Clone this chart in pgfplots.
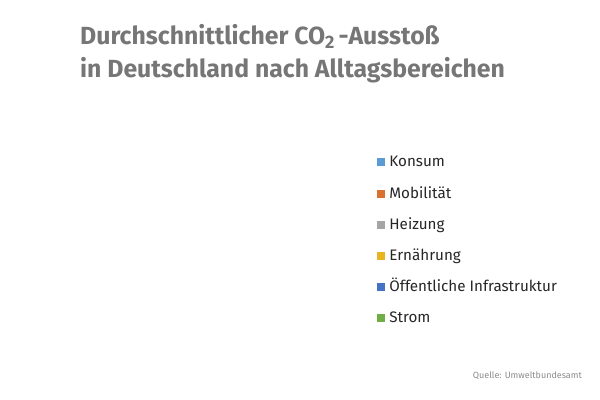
\documentclass[border=0pt]{standalone}
\usepackage{pgfplots}
\pgfplotsset{compat=1.18}
\usepackage{fontspec}
\setmainfont{Fira Sans}

\definecolor{titlegray}{HTML}{767676}
\definecolor{srcgray}{HTML}{8C8C8C}
\definecolor{textdark}{HTML}{262626}
\definecolor{cKonsum}{HTML}{5B9BD5}
\definecolor{cMobil}{HTML}{D9722E}
\definecolor{cHeiz}{HTML}{A5A5A5}
\definecolor{cErn}{HTML}{E8B421}
\definecolor{cOeff}{HTML}{4472C4}
\definecolor{cStrom}{HTML}{70AD47}

\begin{document}
\begin{tikzpicture}
\path[use as bounding box] (0,0) rectangle (600bp,400bp);
\begin{axis}[
    width=600bp, height=400bp,
    scale only axis,
    hide axis,
    xmin=0, xmax=600, ymin=0, ymax=400,
    clip=false,
    legend cell align=left,
    legend style={
        at={(axis cs:377,246.3)}, anchor=north west,
        draw=none, fill=none, inner sep=0pt,
        font=\fontsize{15.2bp}{18bp}\selectfont\color{textdark},
        row sep=14.2bp, column sep=0pt,
        nodes={text height=13bp, text depth=4bp, inner sep=0pt},
    },
    legend image code/.code={
        \fill[#1, draw=none] (0bp,-4bp) rectangle (8bp,4bp);
        \path (12bp,0bp);
    },
]
% the pie itself shows no visible slices in the reference
\addlegendimage{fill=cKonsum}\addlegendentry{Konsum}
\addlegendimage{fill=cMobil}\addlegendentry{Mobilität}
\addlegendimage{fill=cHeiz}\addlegendentry{Heizung}
\addlegendimage{fill=cErn}\addlegendentry{Ernährung}
\addlegendimage{fill=cOeff}\addlegendentry{Öffentliche Infrastruktur}
\addlegendimage{fill=cStrom}\addlegendentry{Strom}

\node[anchor=base west, inner sep=0, text=titlegray,
      font=\fontsize{24.8bp}{28bp}\selectfont\bfseries]
    at (axis cs:80,355.5) {Durchschnittlicher CO\raisebox{-0.3ex}{\fontsize{18bp}{20bp}\selectfont 2}\,-Ausstoß};
\node[anchor=base west, inner sep=0, text=titlegray,
      font=\fontsize{24.8bp}{28bp}\selectfont\bfseries]
    at (axis cs:80,322.5) {in Deutschland nach Alltagsbereichen};
\node[anchor=base east, inner sep=0, text=srcgray,
      font=\fontsize{9bp}{12bp}\selectfont]
    at (axis cs:582,22) {Quelle: Umweltbundesamt};
\end{axis}
\end{tikzpicture}
\end{document}
